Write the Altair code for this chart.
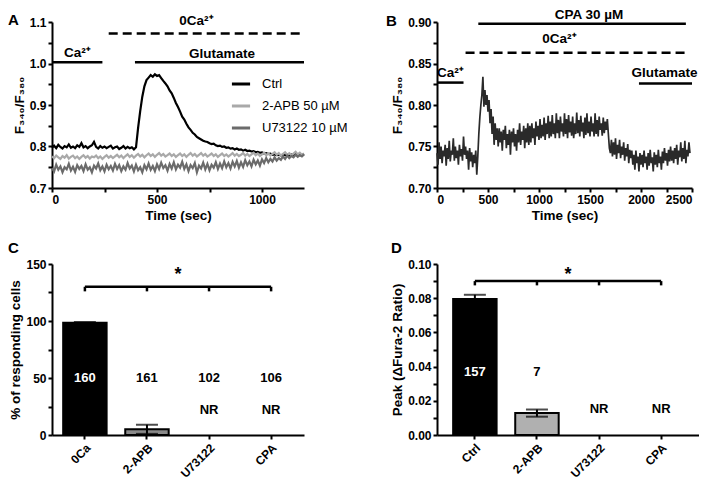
import altair as alt
import pandas as pd

FONT = "Liberation Sans"
WA, WB, WD = 252, 255, 262
H1, H2 = 166, 171

# ---------------- Panel A data ----------------
a_series = ["Ctrl", "2-APB 50 µM", "U73122 10 µM"]
a_colors = ["#000000", "#a9a9a9", "#6b6b6b"]
a_time = list(range(0, 1210, 10))
a_ctrl = [
    0.797, 0.802, 0.796, 0.804, 0.799, 0.795, 0.801, 0.798, 0.805, 0.797,
    0.800, 0.796, 0.803, 0.799, 0.808, 0.798, 0.801, 0.796, 0.800, 0.803,
    0.811, 0.799, 0.795, 0.801, 0.797, 0.800, 0.796, 0.799, 0.802, 0.795,
    0.798, 0.800, 0.794, 0.797, 0.801, 0.795, 0.799, 0.796, 0.798, 0.793,
    0.798, 0.845, 0.885, 0.920, 0.945, 0.960, 0.966, 0.972, 0.968, 0.974,
    0.970, 0.972, 0.965, 0.958, 0.952, 0.945, 0.935, 0.928, 0.917, 0.905,
    0.895, 0.884, 0.872, 0.865, 0.855, 0.846, 0.840, 0.833, 0.829, 0.823,
    0.820, 0.817, 0.814, 0.812, 0.811, 0.808, 0.806, 0.807, 0.803, 0.801,
    0.802, 0.799, 0.800, 0.797, 0.798, 0.795, 0.796, 0.793, 0.795, 0.792,
    0.793, 0.790, 0.792, 0.789, 0.790, 0.788, 0.789, 0.786, 0.787, 0.785,
    0.786, 0.783, 0.784, 0.782, 0.783, 0.780, 0.781, 0.779, 0.780, 0.778,
    0.781, 0.779, 0.780, 0.778, 0.781, 0.779, 0.782, 0.780, 0.781, 0.779, 0.782,
]
a_apb = [
    0.776, 0.772, 0.778, 0.774, 0.770, 0.777, 0.773, 0.779, 0.771, 0.775,
    0.778, 0.772, 0.776, 0.770, 0.775, 0.779, 0.773, 0.777, 0.771, 0.776,
    0.774, 0.778, 0.772, 0.776, 0.770, 0.775, 0.779, 0.773, 0.777, 0.772,
    0.776, 0.780, 0.774, 0.778, 0.772, 0.777, 0.781, 0.775, 0.779, 0.773,
    0.778, 0.782, 0.776, 0.780, 0.774, 0.779, 0.783, 0.777, 0.781, 0.775,
    0.780, 0.784, 0.778, 0.782, 0.776, 0.779, 0.783, 0.777, 0.781, 0.775,
    0.779, 0.783, 0.777, 0.781, 0.775, 0.780, 0.784, 0.778, 0.782, 0.776,
    0.780, 0.784, 0.778, 0.782, 0.776, 0.779, 0.783, 0.777, 0.781, 0.775,
    0.779, 0.783, 0.777, 0.781, 0.776, 0.780, 0.784, 0.778, 0.782, 0.777,
    0.780, 0.784, 0.778, 0.782, 0.777, 0.781, 0.785, 0.779, 0.783, 0.777,
    0.781, 0.785, 0.779, 0.783, 0.778, 0.782, 0.786, 0.780, 0.784, 0.778,
    0.782, 0.786, 0.780, 0.784, 0.779, 0.783, 0.787, 0.781, 0.785, 0.780, 0.783,
]
a_u73 = [
    0.748, 0.740, 0.756, 0.744, 0.752, 0.738, 0.750, 0.745, 0.758, 0.742,
    0.751, 0.739, 0.755, 0.746, 0.753, 0.741, 0.757, 0.744, 0.750, 0.738,
    0.754, 0.747, 0.759, 0.743, 0.752, 0.740, 0.756, 0.745, 0.753, 0.742,
    0.758, 0.746, 0.755, 0.741, 0.752, 0.744, 0.760, 0.747, 0.754, 0.740,
    0.756, 0.743, 0.750, 0.738, 0.755, 0.745, 0.759, 0.744, 0.753, 0.741,
    0.757, 0.746, 0.761, 0.748, 0.755, 0.742, 0.758, 0.747, 0.762, 0.745,
    0.756, 0.749, 0.763, 0.746, 0.757, 0.741, 0.755, 0.748, 0.760, 0.738,
    0.754, 0.747, 0.761, 0.745, 0.758, 0.743, 0.756, 0.749, 0.762, 0.746,
    0.759, 0.748, 0.764, 0.750, 0.760, 0.747, 0.763, 0.752, 0.765, 0.749,
    0.762, 0.751, 0.767, 0.755, 0.764, 0.752, 0.768, 0.757, 0.766, 0.754,
    0.769, 0.760, 0.772, 0.762, 0.770, 0.764, 0.774, 0.766, 0.772, 0.768,
    0.776, 0.770, 0.778, 0.772, 0.777, 0.774, 0.780, 0.775, 0.779, 0.776, 0.781,
]
a_bar_start = [0, 395]
a_bar_end = [240, 1200]
a_bar_y = [1.003, 1.003]
a_dash_start = [270]
a_dash_end = [1200]
a_dash_y = [1.072]
a_text = ["Ca²⁺", "Glutamate", "0Ca²⁺"]
a_text_x = [121, 810, 688]
a_text_y = [1.025, 1.024, 1.103]
a_y_ticks = [0.7, 0.75, 0.8, 0.85, 0.9, 0.95, 1.0, 1.05, 1.1]
a_y_labels = [0.7, 0.8, 0.9, 1.0, 1.1]
a_x_ticks = [0, 250, 500, 750, 1000]
a_x_labels = [0, 500, 1000]

# ---------------- Panel B data ----------------
b_time = list(range(0, 2490, 10))
b_ratio = [
    # 0-380
    0.742, 0.728, 0.755, 0.735, 0.750, 0.730, 0.745, 0.738, 0.752, 0.727,
    0.748, 0.735, 0.757, 0.732, 0.745, 0.740, 0.760, 0.733, 0.750, 0.736,
    0.745, 0.728, 0.752, 0.738, 0.747, 0.733, 0.762, 0.740, 0.750, 0.735,
    0.745, 0.722, 0.748, 0.732, 0.743, 0.725, 0.740, 0.730, 0.745,
    # 390
    0.716,
    # 400-590
    0.738, 0.765, 0.785, 0.800, 0.812, 0.834, 0.798, 0.818, 0.800, 0.812,
    0.792, 0.806, 0.778, 0.795, 0.765, 0.786, 0.752, 0.778, 0.758, 0.772,
    # 600-900
    0.750, 0.772, 0.755, 0.768, 0.745, 0.770, 0.758, 0.775, 0.748, 0.765,
    0.752, 0.770, 0.740, 0.768, 0.755, 0.772, 0.750, 0.765, 0.745, 0.770,
    0.755, 0.778, 0.752, 0.768, 0.758, 0.775, 0.748, 0.772, 0.755, 0.778, 0.752,
    # 910-1100
    0.775, 0.755, 0.778, 0.760, 0.772, 0.752, 0.780, 0.762, 0.775, 0.758,
    0.783, 0.760, 0.776, 0.762, 0.785, 0.758, 0.778, 0.765, 0.787, 0.760,
    # 1110-1650
    0.780, 0.762, 0.788, 0.765, 0.778, 0.760, 0.790, 0.766, 0.782, 0.760,
    0.786, 0.768, 0.778, 0.762, 0.790, 0.765, 0.783, 0.760, 0.788, 0.767,
    0.780, 0.763, 0.786, 0.760, 0.778, 0.765, 0.791, 0.766, 0.782, 0.762,
    0.787, 0.768, 0.779, 0.760, 0.785, 0.764, 0.790, 0.766, 0.780, 0.762,
    0.786, 0.768, 0.778, 0.762, 0.790, 0.765, 0.782, 0.762, 0.786, 0.770,
    0.778, 0.763, 0.785, 0.766, 0.780,
    # 1660-1700
    0.770, 0.783, 0.765, 0.748, 0.742,
    # 1710-1900
    0.758, 0.738, 0.755, 0.740, 0.760, 0.735, 0.752, 0.742, 0.758, 0.736,
    0.750, 0.740, 0.755, 0.733, 0.748, 0.738, 0.753, 0.730, 0.746, 0.736,
    # 1910-2300
    0.745, 0.728, 0.740, 0.722, 0.745, 0.730, 0.738, 0.720, 0.742, 0.728,
    0.740, 0.725, 0.745, 0.730, 0.738, 0.722, 0.742, 0.727, 0.746, 0.730,
    0.737, 0.720, 0.743, 0.728, 0.740, 0.725, 0.746, 0.730, 0.738, 0.722,
    0.744, 0.730, 0.748, 0.733, 0.742, 0.727, 0.746, 0.732, 0.750, 0.733,
    # 2310-2480
    0.745, 0.730, 0.748, 0.735, 0.752, 0.728, 0.745, 0.737, 0.755, 0.732,
    0.748, 0.735, 0.757, 0.730, 0.746, 0.738, 0.755, 0.742,
]
b_bar_start = [0, 405, 1980]
b_bar_end = [260, 2440, 2500]
b_bar_y = [0.827, 0.898, 0.826]
b_dash_start = [280]
b_dash_end = [2470]
b_dash_y = [0.863]
b_text = ["Ca²⁺", "CPA 30 µM", "0Ca²⁺", "Glutamate"]
b_text_x = [130, 1490, 1200, 2230]
b_text_y = [0.839, 0.908, 0.8795, 0.838]
b_y_ticks = [0.7, 0.725, 0.75, 0.775, 0.8, 0.825, 0.85, 0.875, 0.9]
b_y_labels = [0.70, 0.75, 0.80, 0.85, 0.90]
b_x_ticks = [0, 250, 500, 750, 1000, 1250, 1500, 1750, 2000, 2250, 2500]
b_x_labels = [0, 500, 1000, 1500, 2000, 2500]

# ---------------- Panel C data ----------------
c_cats = ["0Ca", "2-APB", "U73122", "CPA"]
c_pct = [98.5, 5.0, 0.0, 0.0]
c_err = [0.6, 4.0, 0.0, 0.0]
c_n = ["160", "161", "102", "106"]
c_n_y = 50
c_nr = ["", "", "NR", "NR"]
c_nr_y = 22
c_bracket = [130, 126]
c_star_y = 140
c_y_ticks = [0, 25, 50, 75, 100, 125, 150]
c_y_labels = [0, 50, 100, 150]

# ---------------- Panel D data ----------------
d_cats = ["Ctrl", "2-APB", "U73122", "CPA"]
d_peak = [0.0795, 0.0128, 0.0, 0.0]
d_err = [0.0025, 0.0021, 0.0, 0.0]
d_n = ["157", "7", "", ""]
d_n_y = 0.037
d_nr = ["", "", "NR", "NR"]
d_nr_y = 0.015
d_bracket = [0.09, 0.0875]
d_star_y = 0.0935
d_y_ticks = [0, 0.01, 0.02, 0.03, 0.04, 0.05, 0.06, 0.07, 0.08, 0.09, 0.10]
d_y_labels = [0.00, 0.02, 0.04, 0.06, 0.08, 0.10]

panel_letters = ["A", "B", "C", "D"]

assert len(a_ctrl) == len(a_time) == len(a_apb) == len(a_u73)
assert len(b_ratio) == len(b_time)


def label_expr(label_values, fmt):
    arr = "[" + ",".join("'%.4f'" % v for v in label_values) + "]"
    return "indexof(%s, format(datum.value, '.4f')) >= 0 ? format(datum.value, '%s') : ''" % (arr, fmt)


def num_axis(title, ticks, labels, fmt):
    return alt.Axis(title=title, values=ticks, tickCount=len(ticks) + 2, labelOverlap=False,
                    labelExpr=label_expr(labels, fmt))


def letter_layer(letter, dx, dy):
    return alt.Chart(pd.DataFrame({"t": [letter]})).mark_text(
        align="left", baseline="middle", font=FONT, fontSize=15, fontWeight="bold", color="black"
    ).encode(text="t:N", x=alt.value(dx), y=alt.value(dy))


def annotation_layers(bs, be, by, ds, de, dy_, texts, tx, ty):
    bars = alt.Chart(pd.DataFrame({"time": bs, "time_end": be, "ratio": by})).mark_rule(
        color="black", strokeWidth=2.5
    ).encode(x="time:Q", x2="time_end:Q", y="ratio:Q")
    dash = alt.Chart(pd.DataFrame({"time": ds, "time_end": de, "ratio": dy_})).mark_rule(
        color="black", strokeWidth=2.5, strokeDash=[9, 5]
    ).encode(x="time:Q", x2="time_end:Q", y="ratio:Q")
    txt = alt.Chart(pd.DataFrame({"time": tx, "ratio": ty, "label": texts})).mark_text(
        font=FONT, fontSize=13.5, fontWeight="bold", color="black", baseline="middle"
    ).encode(x="time:Q", y="ratio:Q", text="label:N")
    return [bars, dash, txt]


# ---------------- Panel A ----------------
dfA = pd.DataFrame({
    "time": a_time * 3,
    "ratio": a_ctrl + a_apb + a_u73,
    "series": [a_series[0]] * len(a_time) + [a_series[1]] * len(a_time) + [a_series[2]] * len(a_time),
})
xA = alt.X("time:Q", scale=alt.Scale(domain=[0, 1200], nice=False),
           axis=num_axis("Time (sec)", a_x_ticks, a_x_labels, "d"))
yA = alt.Y("ratio:Q", scale=alt.Scale(domain=[0.7, 1.1], nice=False, zero=False),
           axis=num_axis("F₃₄₀/F₃₈₀", a_y_ticks, a_y_labels, ".1f"))
linesA = alt.Chart(dfA).mark_line(strokeWidth=2.2).encode(
    x=xA, y=yA,
    color=alt.Color("series:N", sort=a_series,
                    scale=alt.Scale(domain=a_series, range=a_colors),
                    legend=alt.Legend(title=None, orient="none", legendX=178, legendY=51,
                                      symbolType="stroke", symbolStrokeWidth=3, symbolSize=330,
                                      labelFont=FONT, labelFontSize=13, labelFontWeight="normal",
                                      labelColor="black", rowPadding=4, labelOffset=10)),
)
chartA = alt.layer(
    linesA,
    *annotation_layers(a_bar_start, a_bar_end, a_bar_y, a_dash_start, a_dash_end, a_dash_y,
                       a_text, a_text_x, a_text_y),
    letter_layer(panel_letters[0], -44, -2),
).properties(width=WA, height=H1)

# ---------------- Panel B ----------------
dfB = pd.DataFrame({"time": b_time, "ratio": b_ratio})
xB = alt.X("time:Q", scale=alt.Scale(domain=[0, 2500], nice=False),
           axis=num_axis("Time (sec)", b_x_ticks, b_x_labels, "d"))
yB = alt.Y("ratio:Q", scale=alt.Scale(domain=[0.7, 0.9], nice=False, zero=False),
           axis=num_axis("F₃₄₀/F₃₈₀", b_y_ticks, b_y_labels, ".2f"))
lineB = alt.Chart(dfB).mark_line(strokeWidth=1.7, color="#2a2a2a").encode(x=xB, y=yB)
chartB = alt.layer(
    lineB,
    *annotation_layers(b_bar_start, b_bar_end, b_bar_y, b_dash_start, b_dash_end, b_dash_y,
                       b_text, b_text_x, b_text_y),
    letter_layer(panel_letters[1], -51, -1),
).properties(width=WB, height=H1)


# ---------------- Bar panels ----------------
def bar_panel(cats, vals, errs, fills, n_labels, n_y, nr_labels, nr_y, bracket, star_y,
              ymax, yticks, ylabels, yfmt, ytitle, letter, white_cat, pad_outer, width, letter_dx):
    df = pd.DataFrame({"cat": cats, "val": vals, "err": errs, "n": n_labels, "nr": nr_labels})
    df["lo"] = df["val"] - df["err"]
    df["hi"] = df["val"] + df["err"]
    df["n_y"] = n_y
    df["nr_y"] = nr_y
    df["top"] = bracket[0]
    df["bot"] = bracket[1]
    x = alt.X("cat:N", sort=cats,
              scale=alt.Scale(domain=cats, paddingInner=0.3, paddingOuter=pad_outer),
              axis=alt.Axis(title=None, labelAngle=-45, labelPadding=3))
    y = alt.Y("val:Q", scale=alt.Scale(domain=[0, ymax], nice=False),
              axis=num_axis(ytitle, yticks, ylabels, yfmt))
    bars = alt.Chart(df).transform_filter("datum.val > 0").mark_bar(
        stroke="black", strokeWidth=2
    ).encode(x=x, y=y, fill=alt.Fill("cat:N", scale=alt.Scale(domain=cats, range=fills), legend=None))
    base = alt.Chart(df).transform_filter("datum.err > 0")
    err_rule = base.mark_rule(color="black", strokeWidth=2).encode(x="cat:N", y="lo:Q", y2="hi:Q")
    cap_hi = base.mark_tick(color="black", size=22, thickness=2).encode(x="cat:N", y="hi:Q")
    cap_lo = base.mark_tick(color="black", size=22, thickness=2).encode(x="cat:N", y="lo:Q")
    n_text = alt.Chart(df).transform_filter("datum.n != ''").mark_text(
        font=FONT, fontSize=13, fontWeight="bold", baseline="middle"
    ).encode(x="cat:N", y="n_y:Q", text="n:N",
             color=alt.condition(alt.datum.cat == white_cat, alt.value("white"), alt.value("black")))
    nr_text = alt.Chart(df).transform_filter("datum.nr != ''").mark_text(
        font=FONT, fontSize=13, fontWeight="bold", baseline="middle", color="black"
    ).encode(x="cat:N", y="nr_y:Q", text="nr:N")
    br_ticks = alt.Chart(df).mark_rule(color="black", strokeWidth=2.5).encode(x="cat:N", y="top:Q", y2="bot:Q")
    br_h = alt.Chart(pd.DataFrame({"cat": [cats[0]], "cat_end": [cats[-1]], "top": [bracket[0]]})).mark_rule(
        color="black", strokeWidth=2.5
    ).encode(x="cat:N", x2="cat_end:N", y="top:Q")
    star = alt.Chart(pd.DataFrame({"s": ["*"], "sy": [star_y]})).mark_text(
        font=FONT, fontSize=18, fontWeight="bold", baseline="middle", color="black"
    ).encode(x=alt.value(width / 2), y="sy:Q", text="s:N")
    return alt.layer(bars, err_rule, cap_hi, cap_lo, n_text, nr_text, br_ticks, br_h, star,
                     letter_layer(letter, letter_dx, -16)).properties(width=width, height=H2)


chartC = bar_panel(c_cats, c_pct, c_err, ["#000000", "#8a8a8a", "#000000", "#000000"],
                   c_n, c_n_y, c_nr, c_nr_y, c_bracket, c_star_y,
                   150, c_y_ticks, c_y_labels, "d",
                   "% of responding cells", panel_letters[2], "0Ca", 0.18, WA, -44)
chartD = bar_panel(d_cats, d_peak, d_err, ["#000000", "#b0b0b0", "#000000", "#000000"],
                   d_n, d_n_y, d_nr, d_nr_y, d_bracket, d_star_y,
                   0.10, d_y_ticks, d_y_labels, ".2f",
                   "Peak (ΔFura-2 Ratio)", panel_letters[3], "Ctrl", 0.26, WD, -46)

chart = alt.concat(
    chartA, chartB, chartC, chartD, columns=2, spacing={"row": 19, "column": 38}
).resolve_scale(
    x="independent", y="independent", color="independent", fill="independent"
).properties(
    padding={"left": 0, "top": 0, "right": 0, "bottom": 0}
).configure_axis(
    grid=False, domainColor="black", domainWidth=2, tickColor="black", tickWidth=2, tickSize=4,
    labelFont=FONT, labelFontSize=12, labelFontWeight="bold", labelColor="black", labelPadding=2,
    labelOverlap=False,
    titleFont=FONT, titleFontSize=13.5, titleFontWeight="bold", titleColor="black", titlePadding=3,
).configure_view(stroke=None)

chart.save("out.html", embed_options={"renderer": "svg", "actions": False})
